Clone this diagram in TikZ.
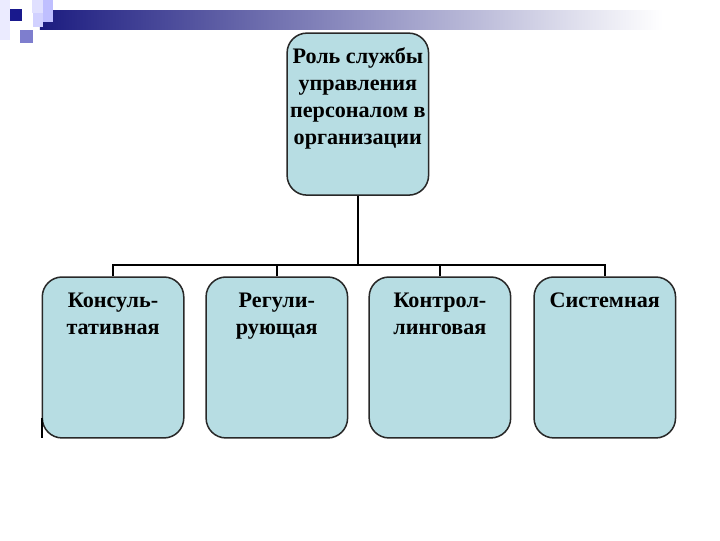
\documentclass[tikz,border=0pt]{standalone}
\usepackage{fontspec}
\setmainfont{Liberation Serif}
\usepackage{xcolor}
\usetikzlibrary{positioning}

\definecolor{boxfill}{RGB}{183,221,227}
\definecolor{boxline}{RGB}{40,40,40}
\definecolor{navybar}{RGB}{28,28,128}

\begin{document}
\begin{tikzpicture}[
    rolebox/.style={draw=boxline, line width=1.2pt, fill=boxfill, rounded corners=0.55cm,
        minimum width=3.93cm, minimum height=4.47cm},
    roletext/.style={anchor=north, align=center, inner sep=0pt,
        font=\fontsize{17.5}{21.3}\selectfont\bfseries},
    link/.style={draw=black, line width=1.6pt},
]
    \useasboundingbox (0,0) rectangle (20,15);

    % Title bar
    \fill[left color=navybar, right color=white] (1.11,14.72) rectangle (18.4,14.19);
    \fill[blue!8] (0,15) rectangle (0.28,13.89);
    \fill[navybar!90!blue] (0.28,14.75) rectangle (0.61,14.42);
    \fill[blue!12] (0.89,15) rectangle (1.19,14.64);
    \fill[blue!25] (1.19,15) rectangle (1.47,14.39);
    \fill[blue!18] (0.92,14.64) rectangle (1.19,14.25);
    \fill[blue!45!gray!70] (0.56,14.17) rectangle (0.92,13.81);

    % Boxes
    \node[rolebox, minimum height=4.5cm] (role) at (9.94,11.83) {};
    \node[rolebox] (cons) at (3.14,5.07) {};
    \node[rolebox] (regu) at (7.69,5.07) {};
    \node[rolebox] (ctrl) at (12.22,5.07) {};
    \node[rolebox] (syst) at (16.80,5.07) {};

    % Labels
    \node[roletext, below=0.42cm of role.north] (roleT)
        {Роль службы\\управления\\персоналом в\\организации};
    \node[roletext, below=0.45cm of cons.north] (consT) {Консуль-\\тативная};
    \node[roletext, below=0.45cm of regu.north] (reguT) {Регули-\\рующая};
    \node[roletext, below=0.45cm of ctrl.north] (ctrlT) {Контрол-\\линговая};
    \node[roletext, below=0.45cm of syst.north] (systT) {Системная};

    % Connectors
    \coordinate (bus) at (role.south |- 0,7.64);
    \draw[link] (role.south) -- (bus);
    \foreach \b in {cons,regu,ctrl,syst}
        \draw[link] (\b.north) |- (bus);

    \draw[line width=1pt] (1.17,3.4) -- (1.17,2.83);
\end{tikzpicture}
\end{document}
